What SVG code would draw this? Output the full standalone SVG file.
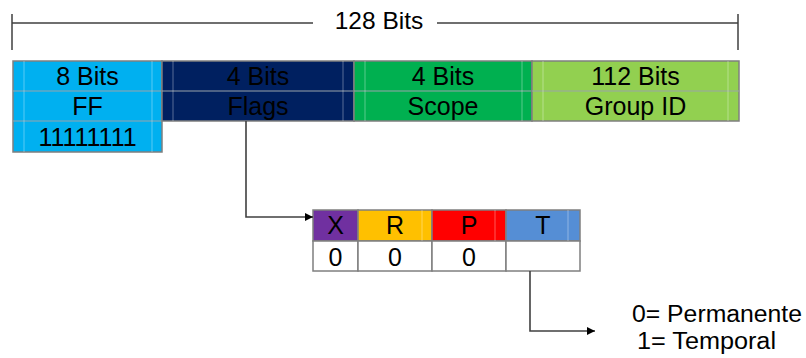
<svg xmlns="http://www.w3.org/2000/svg" width="806" height="358" viewBox="0 0 806 358">
  <style>
    text { font-family: "Liberation Sans", Arial, sans-serif; fill: #000; text-anchor: middle; }
    .t { font-size: 25px; }
    .lg { font-size: 23px; text-anchor: start; }
    .cell { stroke: #7f7f7f; stroke-width: 1.5; }
    .sep { stroke: #9aa3aa; stroke-width: 1; }
    .inner { stroke: #ffffff; stroke-opacity: 0.35; stroke-width: 1; }
    .wire { fill: none; stroke: #404040; stroke-width: 1.6; }
    .dim { fill: none; stroke: #404040; stroke-width: 1.5; }
  </style>
  <defs>
    <marker id="arrow" viewBox="0 0 10 10" refX="10" refY="5" markerWidth="8" markerHeight="8" markerUnits="userSpaceOnUse" orient="auto">
      <path d="M0,0 L10,5 L0,10 Z" fill="#000"/>
    </marker>
  </defs>

  <!-- overall width dimension -->
  <g id="dimension">
    <path class="dim" d="M12,14 V50 M12,23 H313 M437,23 H738 M738,14 V50"/>
    <text class="t" x="379" y="29" style="font-size:24.5px">128 Bits</text>
  </g>

  <!-- multicast address fields -->
  <g id="ff">
    <rect class="cell" x="13" y="61" width="149" height="91" fill="#00b0f0"/>
    <line class="sep" x1="13" y1="91" x2="162" y2="91"/>
    <line class="sep" x1="13" y1="121" x2="162" y2="121"/>
    <path class="inner" d="M24,61 V152 M152,61 V152"/>
    <text class="t" x="87.5" y="85">8 Bits</text>
    <text class="t" x="87.5" y="115">FF</text>
    <text class="t" x="87.5" y="146">11111111</text>
  </g>
  <g id="flags">
    <rect class="cell" x="162" y="61" width="192" height="60" fill="#002060"/>
    <line class="sep" x1="162" y1="91" x2="354" y2="91"/>
    <path class="inner" d="M173,61 V121 M343,61 V121"/>
    <text class="t" x="258" y="85">4 Bits</text>
    <text class="t" x="258" y="115">Flags</text>
  </g>
  <g id="scope">
    <rect class="cell" x="354" y="61" width="178" height="60" fill="#00b050"/>
    <line class="sep" x1="354" y1="91" x2="532" y2="91"/>
    <path class="inner" d="M365,61 V121 M522,61 V121"/>
    <text class="t" x="443" y="85">4 Bits</text>
    <text class="t" x="443" y="115">Scope</text>
  </g>
  <g id="group-id">
    <rect class="cell" x="532" y="61" width="207" height="60" fill="#92d050"/>
    <line class="sep" x1="532" y1="91" x2="739" y2="91"/>
    <path class="inner" d="M543,61 V121 M728,61 V121"/>
    <text class="t" x="635.5" y="85">112 Bits</text>
    <text class="t" x="635.5" y="115">Group ID</text>
  </g>

  <!-- flag bits -->
  <g id="flag-x">
    <rect class="cell" x="313" y="210" width="45" height="31" fill="#7030a0"/>
    <rect class="cell" x="313" y="241" width="45" height="30" fill="#fff"/>
    <text class="t" x="335.5" y="234">X</text>
    <text class="t" x="335.5" y="266">0</text>
  </g>
  <g id="flag-r">
    <rect class="cell" x="358" y="210" width="74" height="31" fill="#ffc000"/>
    <rect class="cell" x="358" y="241" width="74" height="30" fill="#fff"/>
    <path class="inner" d="M422,210 V241"/>
    <text class="t" x="395" y="234">R</text>
    <text class="t" x="395" y="266">0</text>
  </g>
  <g id="flag-p">
    <rect class="cell" x="432" y="210" width="74" height="31" fill="#ff0000"/>
    <rect class="cell" x="432" y="241" width="74" height="30" fill="#fff"/>
    <path class="inner" d="M495,210 V241"/>
    <text class="t" x="469" y="234">P</text>
    <text class="t" x="469" y="266">0</text>
  </g>
  <g id="flag-t">
    <rect class="cell" x="506" y="210" width="74" height="31" fill="#558ed5"/>
    <rect class="cell" x="506" y="241" width="74" height="30" fill="#fff"/>
    <path class="inner" d="M568,210 V241"/>
    <text class="t" x="543" y="234">T</text>
  </g>

  <!-- T flag meaning -->
  <g id="legend">
    <text class="lg" x="632" y="322" textLength="170" lengthAdjust="spacingAndGlyphs">0= Permanente</text>
    <text class="lg" x="637" y="349" textLength="139" lengthAdjust="spacingAndGlyphs">1= Temporal</text>
  </g>

  <g id="connectors">
    <path class="wire" d="M246,121 V217 H313" marker-end="url(#arrow)"/>
    <path class="wire" d="M530,271 V331 H595" marker-end="url(#arrow)"/>
  </g>
</svg>
